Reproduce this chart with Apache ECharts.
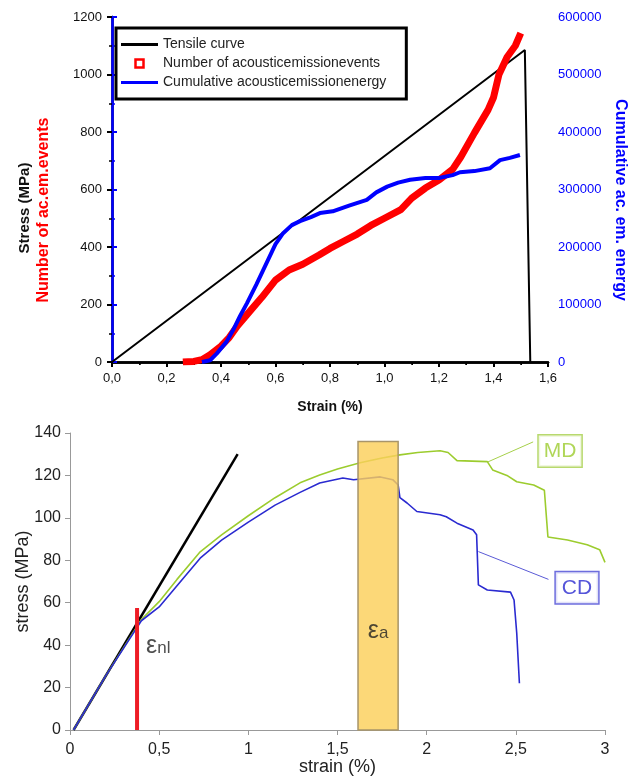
<!DOCTYPE html>
<html lang="en">
<head>
    <meta charset="UTF-8">
    <title>Stress strain</title>
    <style type="text/css">
        html, body { margin: 0; padding: 0; background: #fff; }
        #chart { width: 635px; height: 778px; }
    </style>
    <script src="https://cdn.jsdelivr.net/npm/echarts@6/dist/echarts.min.js"></script>
</head>
<body>
<div id="chart"></div>
<script type="application/javascript">
    // ---- top chart: tensile test + acoustic emission ----
    var tensileStrain = [0, 1.515, 1.535];
    var tensileStress = [0, 1085, 0];

    var eventStrain = [0.26, 0.30, 0.33, 0.36, 0.40, 0.43, 0.46, 0.50, 0.55, 0.60, 0.65, 0.70, 0.76, 0.80,
        0.85, 0.90, 0.95, 1.00, 1.06, 1.10, 1.15, 1.20, 1.25, 1.28, 1.33, 1.38, 1.40, 1.42, 1.45, 1.48, 1.50];
    var eventCount = [0, 2, 8, 25, 55, 85, 125, 170, 225, 285, 320, 340, 372, 395,
        420, 445, 475, 500, 530, 570, 605, 633, 670, 713, 797, 877, 920, 1000, 1061, 1100, 1144];

    var energyStrain = [0.33, 0.36, 0.385, 0.42, 0.445, 0.47, 0.495, 0.53, 0.567, 0.60, 0.628, 0.66, 0.69,
        0.73, 0.763, 0.81, 0.87, 0.935, 0.97, 1.01, 1.05, 1.094, 1.15, 1.20, 1.25, 1.277, 1.33, 1.387,
        1.424, 1.46, 1.497];
    var energyValue = [0, 3000, 15000, 35000, 56000, 80000, 102000, 135000, 172000, 205000, 224000, 238000, 245000,
        252000, 259000, 262000, 272000, 282000, 295000, 305000, 312000, 317000, 320000, 320000, 325000, 330000, 332000, 337000,
        351000, 355000, 360000];

    // ---- bottom chart: MD / CD stress strain ----
    var tangentStrain = [0.02, 0.94];
    var tangentStress = [0, 130];

    var mdStrain = [0.02, 0.2, 0.4, 0.5, 0.6, 0.73, 0.85, 1.0, 1.15, 1.29, 1.40, 1.5, 1.627, 1.75, 1.85, 1.95,
        2.075, 2.12, 2.17, 2.34, 2.37, 2.45, 2.505, 2.6, 2.66, 2.68, 2.79, 2.9, 2.97, 3.0];
    var mdStress = [0, 25.5, 52, 60.5, 71, 84, 92, 101, 109.5, 116.5, 120.2, 123, 126, 128.2, 129.7, 130.8,
        131.6, 130.8, 127, 126.5, 122.6, 120, 117, 115.5, 113, 91, 89.6, 87.3, 85, 79];

    var cdStrain = [0.02, 0.2, 0.4, 0.5, 0.6, 0.73, 0.85, 1.0, 1.15, 1.29, 1.40, 1.53, 1.59, 1.74, 1.81, 1.84,
        1.85, 1.89, 1.945, 2.075, 2.11, 2.17, 2.26, 2.28, 2.29, 2.34, 2.47, 2.49, 2.505, 2.52];
    var cdStress = [0, 25.5, 51.5, 58, 68, 81, 89.5, 98, 106, 112, 116.4, 118.8, 118, 119.3, 118, 115.5,
        109.5, 107, 103, 101.5, 100.5, 97.5, 94.3, 92, 68.4, 66, 65, 61.3, 45.7, 22];

    var nlStrain = 0.376, nlTop = 57.5;
    var bandStrain = [1.615, 1.84], bandTop = 136;
    var mdLeader = [[2.344, 126.4], [2.597, 135.8]];
    var cdLeader = [[2.29, 84.1], [2.683, 71.0]];

    function zip(xs, ys) {
        var out = [];
        for (var i = 0; i < xs.length; i++) out.push([xs[i], ys[i]]);
        return out;
    }

    var FONT = 'Liberation Sans, Arial, sans-serif';
    var LINE_ICON = 'path://M0,0h37v3h-37z';
    var chart = echarts.init(document.getElementById('chart'));

    var option = {
        animation: false,
        textStyle: { fontFamily: FONT },
        grid: [
            { left: 112, top: 17, width: 436, height: 345, outerBoundsMode: 'none' },
            { left: 70, top: 433, width: 535, height: 297, outerBoundsMode: 'none' }
        ],
        legend: {
            orient: 'vertical', left: 116, top: 28,
            borderColor: '#000', borderWidth: 3, borderRadius: 0,
            padding: [9, 20, 9, 5], itemGap: 4,
            itemWidth: 37, itemHeight: 8,
            textStyle: { fontSize: 14, lineHeight: 15, color: '#222', fontFamily: FONT },
            data: [
                { name: 'Tensile curve', icon: LINE_ICON, itemStyle: { color: '#000' } },
                { name: 'Number of acousticemissionevents', icon: 'path://M0,0h10v10h-10z',
                    itemStyle: { color: '#fff', borderColor: '#ff0000', borderWidth: 2.5 } },
                { name: 'Cumulative acousticemissionenergy', icon: LINE_ICON, itemStyle: { color: '#0000ff' } }
            ]
        },
        xAxis: [
            {
                type: 'value', gridIndex: 0, min: 0, max: 1.6, interval: 0.2,
                axisLine: { lineStyle: { color: '#000', width: 2.5 } },
                axisTick: { length: 5, lineStyle: { width: 2 } },
                minorTick: { show: true, splitNumber: 2, length: 3, lineStyle: { color: '#000', width: 1.5 } },
                splitLine: { show: false },
                axisLabel: { margin: 10, fontSize: 13, color: '#111',
                    formatter: function (v) { return v.toFixed(1).replace('.', ','); } }
            },
            {
                type: 'value', gridIndex: 0, position: 'top', min: 0, max: 1.6, interval: 0.2,
                axisLine: { lineStyle: { color: '#000', width: 2.5 } },
                axisTick: { inside: true, length: 5, lineStyle: { width: 2 } },
                minorTick: { show: true, splitNumber: 2, length: 3, lineStyle: { color: '#000' } },
                splitLine: { show: false },
                axisLabel: { show: false }
            },
            {
                type: 'value', gridIndex: 1, min: 0, max: 3, interval: 0.5,
                name: 'strain (%)', nameLocation: 'middle', nameGap: 28, nameMoveOverlap: false,
                nameTextStyle: { fontSize: 18, color: '#222' },
                axisLine: { lineStyle: { color: '#999', width: 1 } },
                axisTick: { length: 5, lineStyle: { color: '#999' } },
                splitLine: { show: false },
                axisLabel: { margin: 12, fontSize: 16, color: '#222',
                    formatter: function (v) { return String(v).replace('.', ','); } }
            }
        ],
        yAxis: [
            {
                type: 'value', gridIndex: 0, min: 0, max: 1200, interval: 200,
                axisLine: { show: true, lineStyle: { color: '#000', width: 2.5 } },
                axisTick: { show: true, length: 5, lineStyle: { width: 2 } },
                minorTick: { show: true, splitNumber: 2, length: 3, lineStyle: { color: '#000', width: 1.5 } },
                splitLine: { show: false },
                axisLabel: { margin: 10, fontSize: 13, color: '#111',
                    formatter: function (v) { return String(v); } }
            },
            {
                type: 'value', gridIndex: 0, position: 'right', min: 0, max: 600000, interval: 100000,
                axisLine: { show: true, lineStyle: { color: '#0000ff', width: 2.5 } },
                axisTick: { show: true, length: 5, lineStyle: { width: 2 } },
                minorTick: { show: true, splitNumber: 2, length: 3, lineStyle: { color: '#0000ff', width: 1.5 } },
                splitLine: { show: false },
                axisLabel: { margin: 10, fontSize: 13, color: '#0000ff',
                    formatter: function (v) { return String(v); } }
            },
            {
                type: 'value', gridIndex: 1, min: 0, max: 140, interval: 20,
                name: 'stress (MPa)', nameLocation: 'middle', nameGap: 38, nameMoveOverlap: false,
                nameTextStyle: { fontSize: 18, color: '#222' },
                axisLine: { show: true, lineStyle: { color: '#999', width: 1 } },
                axisTick: { show: true, length: 5, lineStyle: { color: '#999' } },
                splitLine: { show: false },
                axisLabel: { margin: 9, fontSize: 16, color: '#222' }
            }
        ],
        graphic: [
            { type: 'text', x: 25, y: 208, rotation: Math.PI / 2,
                style: { text: 'Stress (MPa)', fill: '#111', font: 'bold 15px ' + FONT,
                    textAlign: 'center', textVerticalAlign: 'middle' } },
            { type: 'text', x: 44, y: 210, rotation: Math.PI / 2,
                style: { text: 'Number of ac.em.events', fill: '#ff0000', font: 'bold 16px ' + FONT,
                    textAlign: 'center', textVerticalAlign: 'middle' } },
            { type: 'text', x: 620, y: 200, rotation: -Math.PI / 2,
                style: { text: 'Cumulative ac. em. energy', fill: '#0000ff', font: 'bold 16px ' + FONT,
                    textAlign: 'center', textVerticalAlign: 'middle' } },
            { type: 'text', x: 330, y: 407,
                style: { text: 'Strain (%)', fill: '#111', font: 'bold 14px ' + FONT,
                    textAlign: 'center', textVerticalAlign: 'middle' } }
        ],
        series: [
            {
                name: 'Tensile curve', type: 'line', xAxisIndex: 0, yAxisIndex: 0,
                data: zip(tensileStrain, tensileStress), symbol: 'none',
                lineStyle: { color: '#000', width: 2 }, itemStyle: { color: '#000' }
            },
            {
                name: 'Number of acousticemissionevents', type: 'line', xAxisIndex: 0, yAxisIndex: 0,
                data: zip(eventStrain, eventCount), symbol: 'none',
                lineStyle: { color: '#ff0000', width: 7 }, itemStyle: { color: '#ff0000' }
            },
            {
                name: 'Cumulative acousticemissionenergy', type: 'line', xAxisIndex: 0, yAxisIndex: 1,
                data: zip(energyStrain, energyValue), symbol: 'none',
                lineStyle: { color: '#0000ff', width: 4 }, itemStyle: { color: '#0000ff' }
            },
            // bottom chart
            {
                name: 'tangent', type: 'line', xAxisIndex: 2, yAxisIndex: 2,
                data: zip(tangentStrain, tangentStress), symbol: 'none',
                lineStyle: { color: '#000', width: 2.5 }
            },
            {
                name: 'MD', type: 'line', xAxisIndex: 2, yAxisIndex: 2,
                data: zip(mdStrain, mdStress), symbol: 'none',
                lineStyle: { color: '#9ccc2e', width: 1.6 }
            },
            {
                name: 'CD', type: 'line', xAxisIndex: 2, yAxisIndex: 2,
                data: zip(cdStrain, cdStress), symbol: 'none',
                lineStyle: { color: '#2a2ad0', width: 1.6 }
            },
            {
                name: 'nl', type: 'line', xAxisIndex: 2, yAxisIndex: 2,
                data: [[nlStrain, 0], [nlStrain, nlTop]], symbol: 'none',
                lineStyle: { color: '#ee1c25', width: 4 }, z: 4
            },
            {
                name: 'band', type: 'custom', xAxisIndex: 2, yAxisIndex: 2, z: 6,
                data: [[bandStrain[0], bandStrain[1], bandTop]],
                renderItem: function (params, api) {
                    var p0 = api.coord([api.value(0), api.value(2)]);
                    var p1 = api.coord([api.value(1), 0]);
                    return {
                        type: 'rect',
                        shape: { x: p0[0], y: p0[1], width: p1[0] - p0[0], height: p1[1] - p0[1] },
                        style: { fill: 'rgba(251, 208, 90, 0.82)', stroke: '#a8956a', lineWidth: 1.5 }
                    };
                }
            },
            {
                name: 'mdLeader', type: 'line', xAxisIndex: 2, yAxisIndex: 2,
                data: mdLeader, symbol: 'none', lineStyle: { color: '#a6d04a', width: 1 }
            },
            {
                name: 'cdLeader', type: 'line', xAxisIndex: 2, yAxisIndex: 2,
                data: cdLeader, symbol: 'none', lineStyle: { color: '#5a5ad6', width: 1 }
            },
            {
                name: 'labels', type: 'scatter', xAxisIndex: 2, yAxisIndex: 2, symbolSize: 0, z: 8,
                data: [
                    { value: [2.748, 131.5], label: { formatter: 'MD', color: '#9ccc2e',
                        borderColor: '#a6d04a', borderWidth: 1.5, padding: [4, 5], backgroundColor: '#fff' } },
                    { value: [2.843, 67], label: { formatter: 'CD', color: '#2a2ad0',
                        borderColor: '#4848d4', borderWidth: 1.5, padding: [4, 6], backgroundColor: '#fff' } },
                    { value: [1.728, 46], label: { formatter: '{e|ε}{s|a}' } },
                    { value: [0.41, 39], label: { formatter: '{e|ε}{s|nl}', position: 'right', offset: [-2, 0] } }
                ],
                label: {
                    show: true, position: 'inside', fontSize: 21, lineHeight: 23, fontFamily: FONT,
                    rich: {
                        e: { fontSize: 25, color: '#222', fontFamily: FONT, verticalAlign: 'bottom' },
                        s: { fontSize: 17, color: '#222', fontFamily: FONT, verticalAlign: 'bottom', padding: [0, 0, 2, 0] }
                    }
                }
            }
        ]
    };

    chart.setOption(option);
</script>
</body>
</html>
